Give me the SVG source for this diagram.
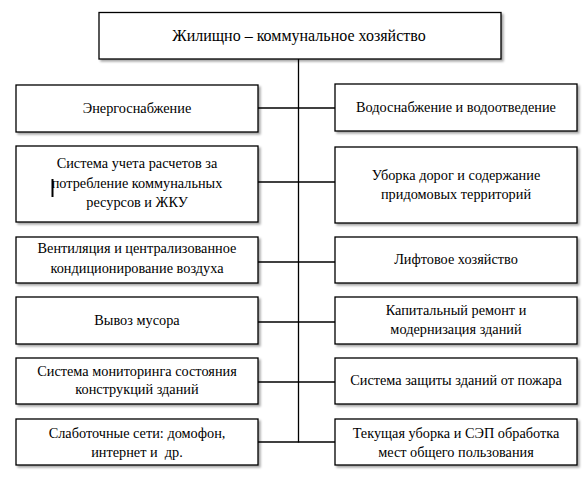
<svg xmlns="http://www.w3.org/2000/svg" width="583" height="479" viewBox="0 0 583 479">
<defs>
<filter id="sh" x="-5%" y="-10%" width="115%" height="130%">
<feDropShadow dx="2" dy="2" stdDeviation="1.2" flood-color="#000" flood-opacity="0.35"/>
</filter>
</defs>
<style>
.box{fill:#fff;stroke:#000;stroke-width:1.3;filter:url(#sh)}
text{font-family:'Liberation Serif','Times New Roman',serif;font-size:14.3px;fill:#000;text-anchor:middle;white-space:pre}
.big{font-size:16px}
.ln{stroke:#000;stroke-width:1.3;fill:none}
</style>
<rect width="583" height="479" fill="#fff"/>
<g id="connectors">
<line class="ln" x1="298.5" y1="59" x2="298.5" y2="442.5"/>
<line class="ln" x1="258" y1="108" x2="335" y2="108"/>
<line class="ln" x1="258" y1="182" x2="335" y2="182"/>
<line class="ln" x1="258" y1="262" x2="335" y2="262"/>
<line class="ln" x1="258" y1="322" x2="335" y2="322"/>
<line class="ln" x1="258" y1="382" x2="335" y2="382"/>
<line class="ln" x1="258" y1="442" x2="335" y2="442"/>
</g>
<g id="root">
<rect class="box" x="99" y="12.5" width="402" height="46.5"/>
<text class="big" x="299" y="41">Жилищно – коммунальное хозяйство</text>
</g>
<g id="l1">
<rect class="box" x="16" y="85" width="242" height="47"/>
<text x="137" y="113">Энергоснабжение</text>
</g>
<g id="r1">
<rect class="box" x="335" y="84" width="242" height="47"/>
<text x="456" y="112">Водоснабжение и водоотведение</text>
</g>
<g id="l2">
<rect class="box" x="16" y="146" width="242" height="76"/>
<text x="137" y="168">Система учета расчетов за</text>
<text x="137" y="188">потребление коммунальных</text>
<text x="137" y="207">ресурсов и ЖКУ</text>
<rect x="51.5" y="179" width="2" height="18" fill="#000"/>
</g>
<g id="r2">
<rect class="box" x="335" y="147" width="242" height="76"/>
<text x="456" y="180">Уборка дорог и содержание</text>
<text x="456" y="199">придомовых территорий</text>
</g>
<g id="l3">
<rect class="box" x="16" y="237" width="242" height="46"/>
<text x="137" y="253">Вентиляция и централизованное</text>
<text x="137" y="273">кондиционирование воздуха</text>
</g>
<g id="r3">
<rect class="box" x="335" y="237" width="242" height="46"/>
<text x="456" y="264">Лифтовое хозяйство</text>
</g>
<g id="l4">
<rect class="box" x="16" y="297" width="242" height="47"/>
<text x="137" y="325">Вывоз мусора</text>
</g>
<g id="r4">
<rect class="box" x="335" y="297" width="242" height="47"/>
<text x="456" y="315">Капитальный ремонт и</text>
<text x="456" y="334">модернизация зданий</text>
</g>
<g id="l5">
<rect class="box" x="16" y="358" width="242" height="46"/>
<text x="137" y="376">Система мониторинга состояния</text>
<text x="137" y="394">конструкций зданий</text>
</g>
<g id="r5">
<rect class="box" x="335" y="358" width="242" height="46"/>
<text x="456" y="385">Система защиты зданий от пожара</text>
</g>
<g id="l6">
<rect class="box" x="16" y="419" width="242" height="46"/>
<text x="137" y="438">Слаботочные сети: домофон,</text>
<text x="137" y="457">интернет и  др.</text>
</g>
<g id="r6">
<rect class="box" x="335" y="419" width="242" height="46"/>
<text x="456" y="438">Текущая уборка и СЭП обработка</text>
<text x="456" y="457">мест общего пользования</text>
</g>
</svg>
